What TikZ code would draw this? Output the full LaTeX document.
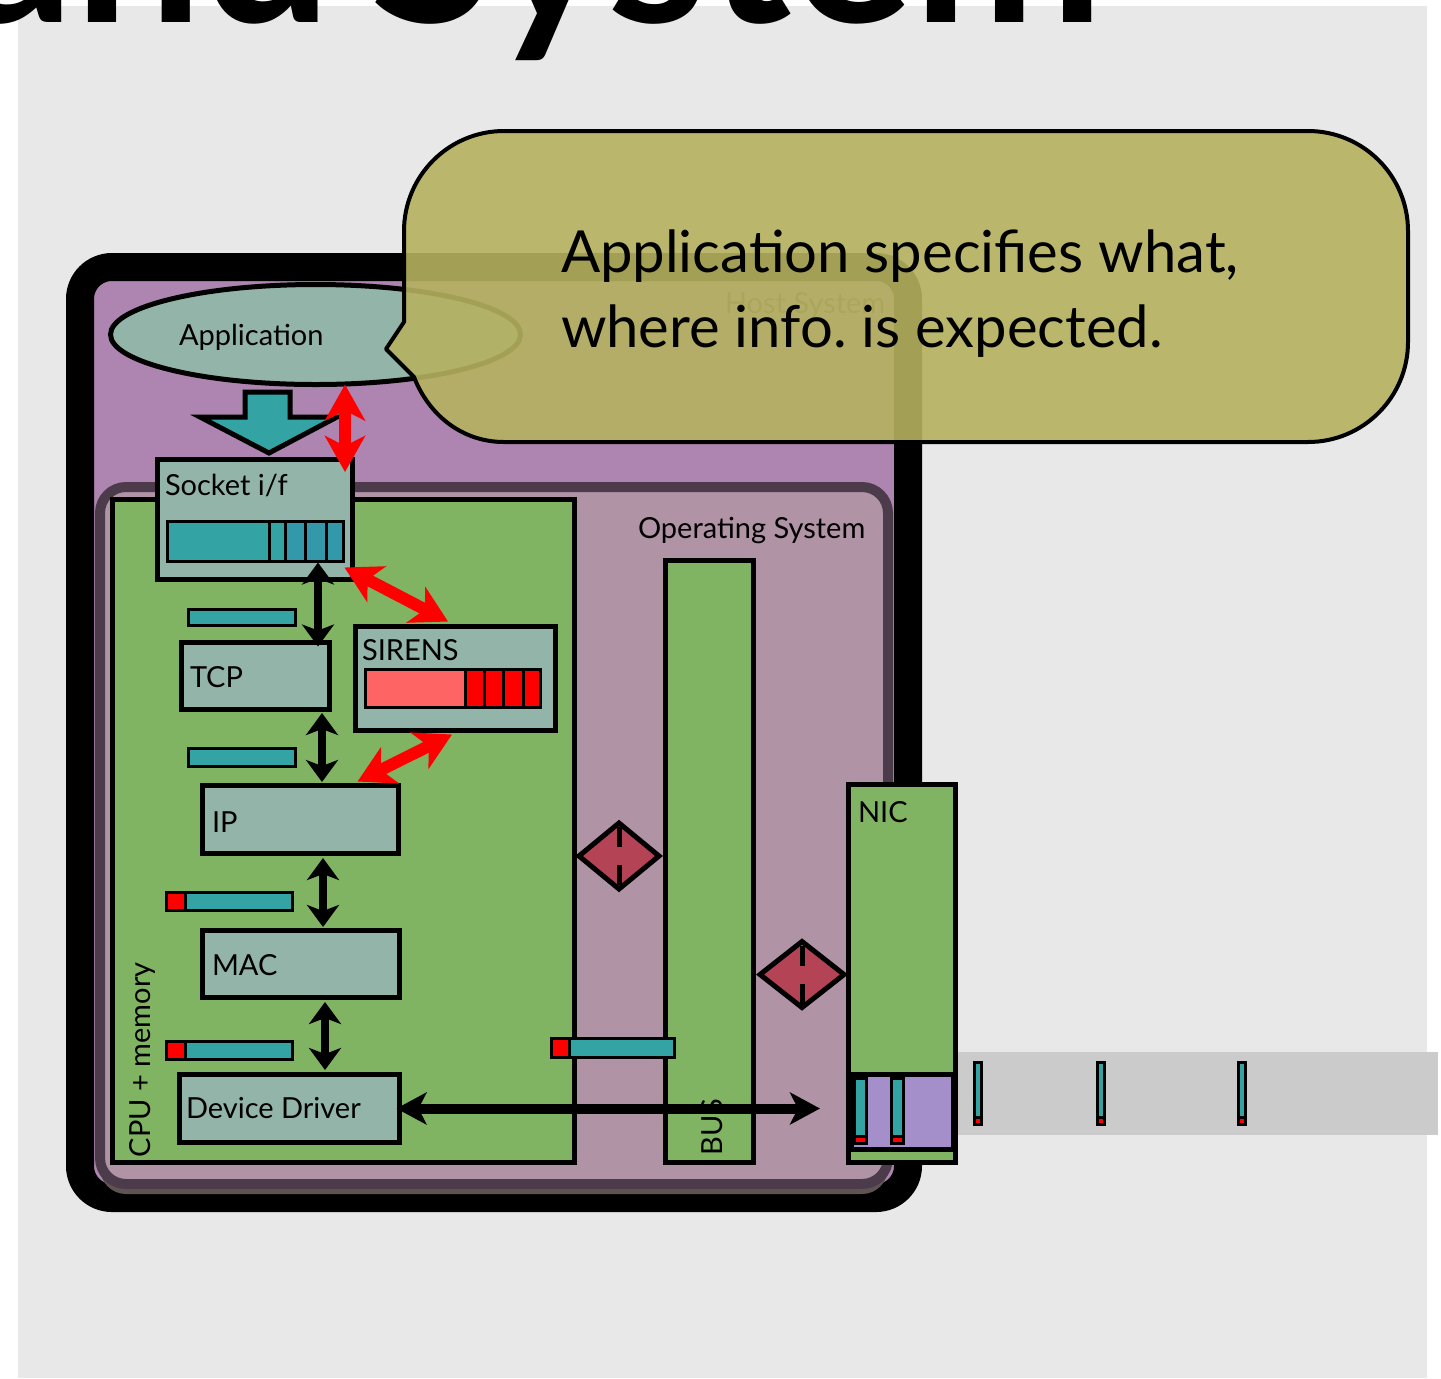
\documentclass[tikz,border=0pt]{standalone}
\usepackage{fontspec}
\setmainfont{Lato}
\usetikzlibrary{arrows.meta,shapes.geometric}
\frenchspacing

\definecolor{panel}{HTML}{E8E8E8}
\definecolor{hostpurple}{HTML}{AE84B0}
\definecolor{osfill}{HTML}{B193A6}
\definecolor{osedge}{HTML}{4C3B4A}
\definecolor{osshade}{HTML}{5F5452}
\definecolor{cpugreen}{HTML}{80B462}
\definecolor{boxgrey}{HTML}{93B4A8}
\definecolor{qteal}{HTML}{33A3A3}
\definecolor{qtealdark}{HTML}{3399AA}
\definecolor{sirenpink}{HTML}{FF6464}
\definecolor{diared}{HTML}{B44455}
\definecolor{nicbuf}{HTML}{A48FCB}
\definecolor{wire}{HTML}{CBCBCB}
\definecolor{callfill}{HTML}{B5B260}

\begin{document}
\begin{tikzpicture}[x=0.5pt,y=-0.5pt,
  every node/.style={inner sep=0pt, outer sep=0pt},
  lbl/.style={anchor=base west, font=\fontsize{14.5}{17}\selectfont, text=black},
  sz/.style 2 args={minimum width=#1*0.5pt, minimum height=#2*0.5pt},
  layerbox/.style={rectangle, draw=black, line width=2.5pt, fill=boxgrey},
  hwbox/.style={rectangle, draw=black, line width=2.5pt, fill=cpugreen},
  qbar/.style={draw=black, line width=1.5pt, fill=qteal},
  qred/.style={draw=black, line width=1.5pt, fill=red},
  blkarrow/.style={draw=black, line width=4pt,
    {Stealth[length=11pt,width=16pt,inset=3pt]}-{Stealth[length=11pt,width=16pt,inset=3pt]}},
  busarrow/.style={draw=black, line width=5pt,
    {Stealth[length=15pt,width=16pt,inset=4pt]}-{Stealth[length=15pt,width=16pt,inset=4pt]}},
  redarrow/.style={draw=red, line width=6pt,
    {Stealth[length=18pt,width=20pt,inset=5pt]}-{Stealth[length=18pt,width=20pt,inset=5pt]}},
  gate/.style={diamond, draw=black, line width=2.5pt, fill=diared},
  titletext/.style={font=\fontsize{114}{124}\selectfont\bfseries},
]
\useasboundingbox (0,0) rectangle (1441,1378);

% page and backdrop
\fill[white] (0,0) rectangle (1441,1378);
\fill[panel] (18,6) rectangle (1427,1378);

% slide title, mostly above the page edge
\begin{scope}
  \clip (0,0) rectangle (1441,1378);
  \node[anchor=base east, titletext] (titleA) at (332,22) {and};
  \node[anchor=base west, titletext] (titleB) at (370,22) {System};
\end{scope}

% host system frame
\draw[line width=14pt, rounded corners=16pt, fill=hostpurple] (80,267) rectangle (908,1198);
\node[lbl, text=black!75] (hostlbl) at (725,313) {Host System};

% operating system area, with its lower shade
\fill[osshade, rounded corners=13pt] (100,1140) rectangle (888,1194);
\draw[draw=osedge, line width=5pt, fill=osfill, rounded corners=13pt] (100,487) rectangle (888,1184);
\node[lbl] (oslbl) at (638,538) {Operating System};

% network wire
\fill[wire] (958,1052) rectangle (1438,1135);

% hardware blocks
\node[hwbox, sz={462}{663}] (cpu) at (343.5,831) {};
\node[hwbox, sz={88}{602}] (bus) at (709.5,861.5) {};
\node[hwbox, sz={107}{378}] (nic) at (902,973.5) {};
\node[rectangle, draw=black, line width=2.5pt, fill=nicbuf, sz={102}{75}] (nicq) at (902,1111.5) {};
\node[lbl, rotate=90] (cpulbl) at (150,1157) {CPU + memory};
\node[lbl, rotate=90] (buslbl) at (722,1155) {BUS};
\node[lbl] (niclbl) at (858,822) {NIC};

% application and protocol layers
\node[ellipse, draw=black, line width=2.5pt, fill=boxgrey, sz={410}{100}] (app) at (315.5,334.5) {};
\node[lbl] (applbl) at (179,345) {Application};

\node[layerbox, sz={195}{120}] (sock) at (255,519.5) {};
\node[lbl] (socklbl) at (165,495) {Socket i/f};
\node[layerbox, sz={148}{67}] (tcp) at (255.5,676) {};
\node[lbl] (tcplbl) at (190,687) {TCP};
\node[layerbox, sz={200}{104}] (sirens) at (455.5,678.5) {};
\node[lbl] (sirenslbl) at (362,660) {SIRENS};
\node[layerbox, sz={196}{68}] (ip) at (300.5,819.5) {};
\node[lbl] (iplbl) at (212,832) {IP};
\node[layerbox, sz={197}{67}] (mac) at (301,964) {};
\node[lbl] (maclbl) at (212,975) {MAC};
\node[layerbox, sz={220}{68}] (dd) at (289.5,1108.5) {};
\node[lbl] (ddlbl) at (186,1118) {Device Driver};

% socket buffer
\draw[qbar] (167.5,521.5) rectangle (269,561.5);
\draw[qbar] (269,521.5) rectangle (285,561.5);
\draw[qbar, fill=qtealdark] (285,521.5) rectangle (305,561.5);
\draw[qbar, fill=qtealdark] (305,521.5) rectangle (326,561.5);
\draw[qbar, fill=qtealdark] (326,521.5) rectangle (343.5,561.5);

% SIRENS buffer
\draw[qbar, fill=sirenpink] (365.5,669.5) rectangle (465,707.5);
\draw[qred] (465,669.5) rectangle (484,707.5);
\draw[qred] (484,669.5) rectangle (503,707.5);
\draw[qred] (503,669.5) rectangle (523,707.5);
\draw[qred] (523,669.5) rectangle (540.5,707.5);

% per-layer buffers
\draw[qbar] (188.5,609.5) rectangle (295.5,625.5);
\draw[qbar] (188.5,748.5) rectangle (295.5,766.5);
\draw[qbar] (185,892.5) rectangle (292.5,910.5);
\draw[qred] (166.5,892.5) rectangle (185,910.5);
\draw[qbar] (185,1041.5) rectangle (292.5,1059.5);
\draw[qred] (166.5,1041.5) rectangle (185,1059.5);
\draw[qbar] (569,1038.5) rectangle (674.5,1057.5);
\draw[qred] (551.5,1038.5) rectangle (569,1057.5);

% NIC and wire packets
\foreach \px in {853,890}{
  \draw[qbar] (\px+1.5,1078.5) rectangle (\px+13.5,1143.5);
  \draw[qred] (\px+1.5,1136) rectangle (\px+13.5,1143.5);
}
\foreach \px in {973,1096,1237}{
  \draw[qbar] (\px+1.5,1062.5) rectangle (\px+8.5,1124.5);
  \draw[qred] (\px+1.5,1117.5) rectangle (\px+8.5,1124.5);
}

% data handed down from the application
\filldraw[fill=qteal, draw=black, line width=2.5pt, line join=miter]
  (245,392) -- (290,392) -- (290,417) -- (337,417) -- (269,453) -- (200,417) -- (245,417) -- cycle;

% stack connectors
\coordinate (colA) at (318,0);
\coordinate (colB) at (322,0);
\coordinate (colC) at (323,0);
\coordinate (colD) at (325,0);
\coordinate (colR) at (345,0);
\draw[blkarrow, shorten <=-8.5pt, shorten >=-2pt] (sock.south -| colA) -- (tcp.north -| colA);
\draw[blkarrow, shorten <=1.75pt, shorten >=1.75pt] (tcp.south -| colB) -- (ip.north -| colB);
\draw[blkarrow, shorten <=2.25pt, shorten >=1.75pt] (ip.south -| colC) -- (mac.north -| colC);
\draw[blkarrow, shorten <=2.25pt, shorten >=2.25pt] (mac.south -| colD) -- (dd.north -| colD);
\draw[busarrow, shorten <=-1.5pt, shorten >=15.5pt] (dd.east) -- (dd.east -| nicq.west);

\draw[redarrow, shorten >=-6.25pt] (app.south -| colR) -- (sock.north -| colR);
\draw[redarrow] ([xshift=-4pt,yshift=6pt]sock.south east) -- ([xshift=-3.75pt,yshift=2.5pt]sirens.north);
\draw[redarrow] ([xshift=-1.75pt,yshift=-2pt]sirens.south) -- ([xshift=-20.5pt,yshift=2pt]ip.north east);

% bus gateways
\node[gate, minimum width=40pt, minimum height=33pt] (gateA) at (619,856) {};
\node[gate, minimum width=42pt, minimum height=33pt] (gateB) at (802,974.5) {};
\foreach \g in {gateA,gateB}{
  \draw[line width=2.5pt] ([yshift=-2pt]\g.north) -- ([yshift=4.5pt]\g.center);
  \draw[line width=2.5pt] ([yshift=-4.5pt]\g.center) -- ([yshift=2pt]\g.south);
}

% speech bubble
\filldraw[fill=callfill, fill opacity=0.9, draw=black, line width=2pt, line join=round]
  (386,349) -- (404,322) -- (404,231) .. controls (404,175.8) and (448.8,131) .. (504,131)
  -- (1308,131) .. controls (1363.2,131) and (1408,175.8) .. (1408,231)
  -- (1408,342) .. controls (1408,397.2) and (1363.2,442) .. (1308,442)
  -- (504,442) .. controls (462.6,442) and (429,415.6) .. (414,377) -- cycle;
\node[anchor=base west, font=\fontsize{29}{36}\selectfont] (callA) at (561,272) {Application specifies what,};
\node[anchor=base west, font=\fontsize{29}{36}\selectfont] (callB) at (561,347) {where info. is expected.};
\end{tikzpicture}
\end{document}
